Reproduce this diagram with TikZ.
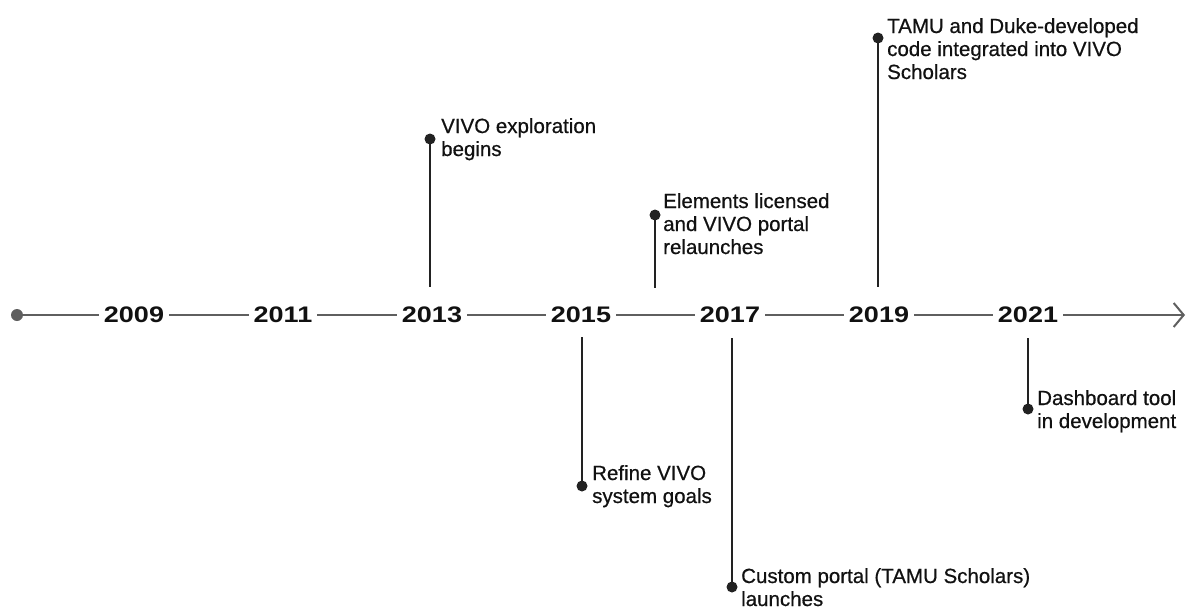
\documentclass[tikz,border=0pt]{standalone}
\usepackage{fontspec}
\setmainfont{Liberation Sans}
\newfontfamily\yearfont[FakeStretch=1.2]{Liberation Sans Bold}
\newfontfamily\evfont[FakeBold=0.6]{Liberation Sans}
\usetikzlibrary{arrows.meta}
\definecolor{tlgray}{HTML}{5F5F5F}
\definecolor{evdark}{HTML}{222222}
\definecolor{txt}{HTML}{111111}
\begin{document}
\begin{tikzpicture}[x=1pt,y=-1pt,
  year/.style={font=\yearfont\fontsize{22.5}{24}\selectfont, text=txt, inner xsep=5pt, inner ysep=0pt},
  timeline/.style={draw=tlgray, line width=2pt},
  startdot/.style={circle, fill=tlgray, minimum size=12pt, inner sep=0pt},
  evdot/.style={circle, fill=evdark, minimum size=11pt, inner sep=0pt},
  evline/.style={draw=evdark, line width=2pt},
  evtext/.style={font=\evfont\fontsize{20.5}{23}\selectfont, text=txt, align=left, anchor=base west, inner sep=0pt}]
\useasboundingbox (0,0) rectangle (1189,608);
% timeline
\node[startdot] (start) at (17,315) {};
\node[year] (y2009) at (134,315) {2009};
\node[year] (y2011) at (283,315) {2011};
\node[year] (y2013) at (432,315) {2013};
\node[year] (y2015) at (581,315) {2015};
\node[year] (y2017) at (730,315) {2017};
\node[year] (y2019) at (879,315) {2019};
\node[year] (y2021) at (1028,315) {2021};
\coordinate (tlend) at (1185,315);
\draw[timeline] (start) -- (y2009);
\draw[timeline] (y2009) -- (y2011);
\draw[timeline] (y2011) -- (y2013);
\draw[timeline] (y2013) -- (y2015);
\draw[timeline] (y2015) -- (y2017);
\draw[timeline] (y2017) -- (y2019);
\draw[timeline] (y2019) -- (y2021);
\draw[timeline, -{Straight Barb[length=10pt,width=24pt,line width=2pt]}] (y2021) -- (tlend);
% events (text nodes are placed by the baseline of their last line)
\node[evdot] (d2013) at (430,139) {};
\coordinate (b2013) at (430,287);
\draw[evline] (d2013.center) -- (b2013);
\node[evtext] (t2013) at (441,156) {VIVO exploration\\begins};

\node[evdot] (d2015) at (582,486) {};
\coordinate (b2015) at (582,337);
\draw[evline] (b2015) -- (d2015.center);
\node[evtext] (t2015) at (592,503) {Refine VIVO\\system goals};

\node[evdot] (d2016) at (655,215) {};
\coordinate (b2016) at (655,288);
\draw[evline] (d2016.center) -- (b2016);
\node[evtext] (t2016) at (663,254) {Elements licensed\\and VIVO portal\\relaunches};

\node[evdot] (d2017) at (732,587) {};
\coordinate (b2017) at (732,338);
\draw[evline] (b2017) -- (d2017.center);
\node[evtext] (t2017) at (741,606) {Custom portal (TAMU Scholars)\\launches};

\node[evdot] (d2019) at (878,38) {};
\coordinate (b2019) at (878,287);
\draw[evline] (d2019.center) -- (b2019);
\node[evtext] (t2019) at (887,79) {TAMU and Duke-developed\\code integrated into VIVO\\Scholars};

\node[evdot] (d2021) at (1028,409) {};
\coordinate (b2021) at (1028,338);
\draw[evline] (b2021) -- (d2021.center);
\node[evtext] (t2021) at (1037,428) {Dashboard tool\\in development};
\end{tikzpicture}
\end{document}
